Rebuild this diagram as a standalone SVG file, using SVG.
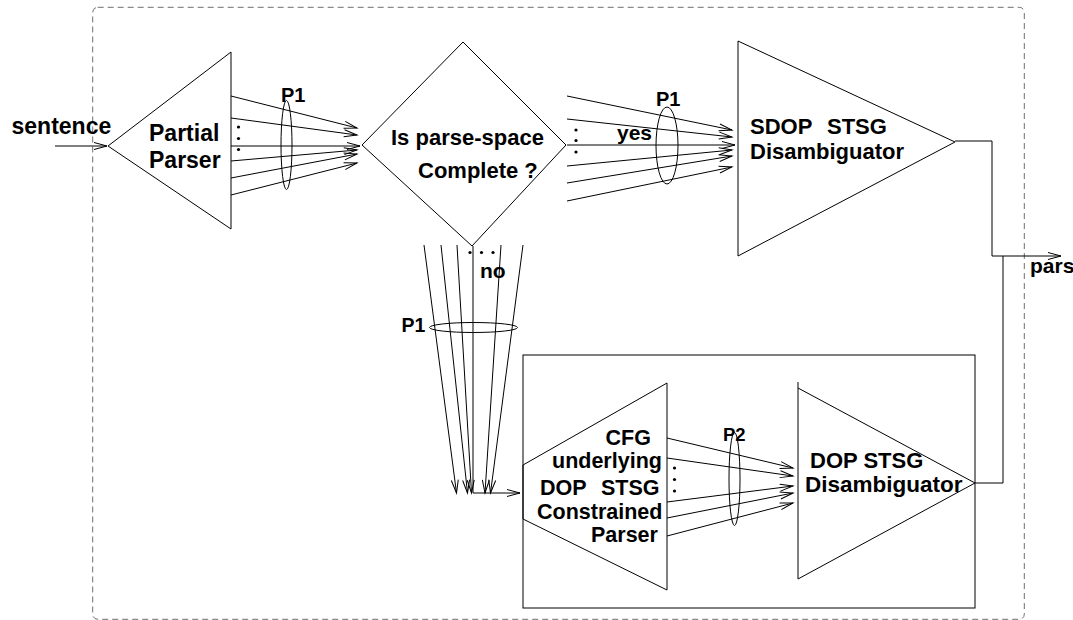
<svg xmlns="http://www.w3.org/2000/svg" width="1073" height="620" viewBox="0 0 1073 620">
  <style>
    .ln { fill: none; stroke: #000; stroke-width: 1; }
    .arr { fill: none; stroke: #000; stroke-width: 1; marker-end: url(#open); }
    .lbl { font-family: "Liberation Sans", Arial, Helvetica, sans-serif; font-weight: bold; fill: #000; }
    .dot { fill: #000; }
  </style>
  <defs>
    <marker id="open" markerUnits="userSpaceOnUse" markerWidth="16" markerHeight="10" refX="0" refY="0" orient="auto" overflow="visible">
      <path d="M-13,-3.5 L0,0 L-13,3.5" fill="none" stroke="#000" stroke-width="1"/>
    </marker>
  </defs>

  <rect width="1073" height="620" fill="#fff"/>

  <!-- dashed system boundary -->
  <rect id="boundary" x="92.7" y="7.3" width="931.6" height="612" rx="5" fill="none" stroke="#6f6f6f" stroke-width="1" stroke-dasharray="6 4"/>

  <!-- partial parser -->
  <g id="partial-parser">
    <polygon class="ln" points="108,146 231,52 231,229"/>
    <text class="lbl" x="149" y="140.5" font-size="23">Partial</text>
    <text class="lbl" x="149" y="167.5" font-size="23">Parser</text>
  </g>

  <!-- completeness test -->
  <g id="decision">
    <polygon class="ln" points="362,145 463,42 566,145 472,246"/>
    <text class="lbl" x="391" y="145" font-size="22">Is parse-space</text>
    <text class="lbl" x="418" y="178" font-size="22">Complete ?</text>
  </g>

  <!-- SDOP disambiguator -->
  <g id="sdop-disambiguator">
    <polygon class="ln" points="738,41 955,142 738,256"/>
    <text class="lbl" font-size="22" y="134"><tspan x="750">SDOP</tspan><tspan x="827">STSG</tspan></text>
    <text class="lbl" x="750" y="159" font-size="22">Disambiguator</text>
  </g>

  <!-- constrained parsing subsystem -->
  <g id="constrained-subsystem">
    <rect class="ln" x="523" y="355" width="452" height="253"/>
  </g>

  <g id="constrained-parser">
    <polygon class="ln" points="523,465 667,383 667,590 523,519"/>
    <text class="lbl" x="605.5" y="444.5" font-size="21.5">CFG</text>
    <text class="lbl" x="552" y="467.5" font-size="21.5">underlying</text>
    <text class="lbl" font-size="21.5" y="494.5"><tspan x="540">DOP</tspan><tspan x="601">STSG</tspan></text>
    <text class="lbl" x="537" y="518.5" font-size="21.5">Constrained</text>
    <text class="lbl" x="591" y="541.5" font-size="21.5">Parser</text>
  </g>

  <g id="dop-disambiguator">
    <polyline class="ln" points="798,382 798,579 975,483 798,388"/>
    <text class="lbl" x="810" y="468" font-size="22">DOP STSG</text>
    <text class="lbl" x="805" y="491.5" font-size="22.5">Disambiguator</text>
  </g>

  <!-- connectors -->
  <g id="connectors">
    <!-- input -->
    <line class="arr" x1="55" y1="146" x2="107" y2="146"/>
    <text class="lbl" x="11.5" y="133.5" font-size="23">sentence</text>

    <!-- partial parses into the test -->
    <line class="arr" x1="231" y1="96" x2="357" y2="128"/>
    <line class="arr" x1="231" y1="118" x2="357" y2="135"/>
    <line class="arr" x1="231" y1="146" x2="360" y2="146"/>
    <line class="arr" x1="231" y1="161" x2="357" y2="150"/>
    <line class="arr" x1="231" y1="178" x2="357" y2="154"/>
    <line class="arr" x1="231" y1="195" x2="357" y2="163"/>
    <circle class="dot" cx="238.5" cy="127" r="1.6"/>
    <circle class="dot" cx="238.5" cy="138.5" r="1.6"/>
    <circle class="dot" cx="238.5" cy="149.5" r="1.6"/>
    <ellipse class="ln" cx="286.5" cy="145" rx="5.5" ry="44.5"/>
    <text class="lbl" x="281" y="101.5" font-size="20">P1</text>

    <!-- yes branch -->
    <line class="arr" x1="567" y1="96" x2="732" y2="130"/>
    <line class="arr" x1="567" y1="119" x2="732" y2="137"/>
    <line class="arr" x1="567" y1="145" x2="735" y2="145"/>
    <line class="arr" x1="567" y1="166" x2="732" y2="150"/>
    <line class="arr" x1="567" y1="183" x2="732" y2="156"/>
    <line class="arr" x1="567" y1="201" x2="732" y2="167"/>
    <circle class="dot" cx="576" cy="130" r="1.6"/>
    <circle class="dot" cx="576" cy="140.5" r="1.6"/>
    <circle class="dot" cx="576" cy="152" r="1.6"/>
    <ellipse class="ln" cx="667" cy="145.5" rx="11" ry="38.5"/>
    <text class="lbl" x="656" y="106" font-size="20">P1</text>
    <text class="lbl" x="617" y="140" font-size="21">yes</text>

    <!-- no branch -->
    <line class="arr" x1="424" y1="245" x2="456.5" y2="493"/>
    <line class="arr" x1="441" y1="245" x2="467.5" y2="493"/>
    <line class="arr" x1="457" y1="245" x2="471.5" y2="493"/>
    <line class="arr" x1="501" y1="245" x2="485" y2="493"/>
    <line class="arr" x1="523" y1="245" x2="490.5" y2="493"/>
    <polyline class="arr" points="473,246 473,493 520,493"/>
    <circle class="dot" cx="470" cy="252.5" r="1.6"/>
    <circle class="dot" cx="481.5" cy="252.5" r="1.6"/>
    <circle class="dot" cx="493" cy="252.5" r="1.6"/>
    <text class="lbl" x="480" y="277.5" font-size="21">no</text>
    <ellipse class="ln" cx="473.5" cy="327.5" rx="44" ry="5"/>
    <text class="lbl" x="401.5" y="331.5" font-size="19.5">P1</text>

    <!-- constrained parses into the DOP disambiguator -->
    <line class="arr" x1="667" y1="438" x2="793" y2="468"/>
    <line class="arr" x1="667" y1="458" x2="793" y2="476"/>
    <line class="arr" x1="667" y1="502" x2="793" y2="486"/>
    <line class="arr" x1="667" y1="518" x2="793" y2="493"/>
    <line class="arr" x1="667" y1="536" x2="793" y2="503"/>
    <circle class="dot" cx="674.5" cy="468" r="1.6"/>
    <circle class="dot" cx="674.5" cy="479.5" r="1.6"/>
    <circle class="dot" cx="674.5" cy="491" r="1.6"/>
    <ellipse class="ln" cx="734.5" cy="479" rx="5.5" ry="46.5"/>
    <text class="lbl" x="723" y="441" font-size="18.5">P2</text>

    <!-- outputs -->
    <polyline class="ln" points="955,141 992,141 992,256"/>
    <polyline class="ln" points="975,483 1003,483 1003,256"/>
    <line class="arr" x1="992" y1="256" x2="1061" y2="256"/>
    <text class="lbl" x="1030" y="273" font-size="21">parse</text>
  </g>
</svg>
